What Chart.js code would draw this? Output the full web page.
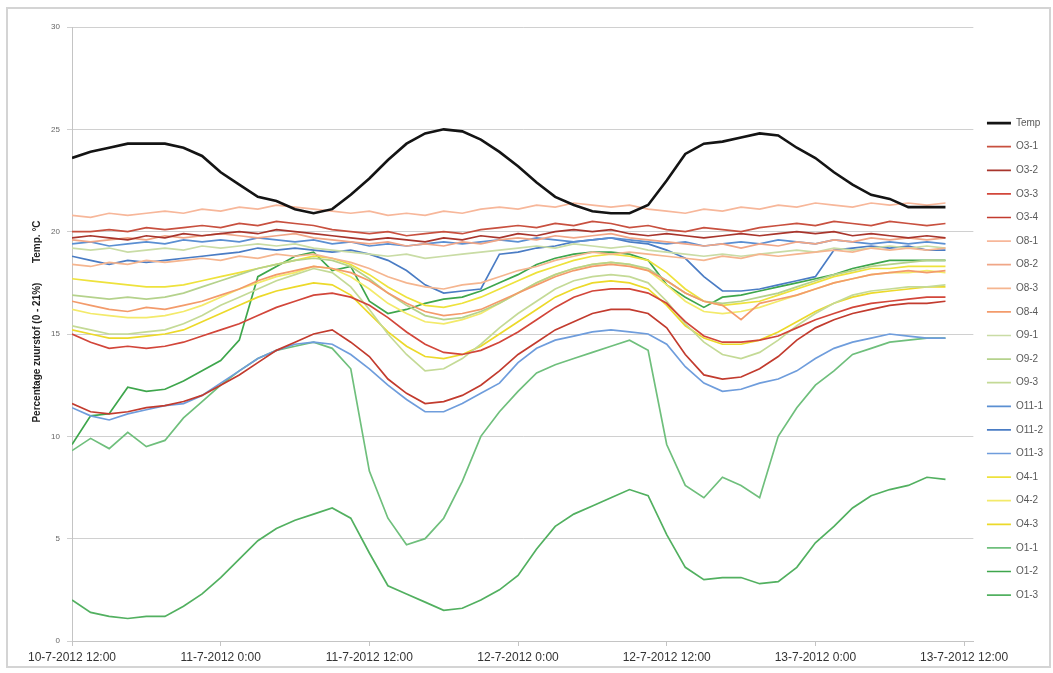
<!doctype html>
<html lang="en">
<head>
<meta charset="utf-8">
<title>Zuurstof en temperatuur</title>
<style>
  * { margin: 0; padding: 0; }
  body { background: #fff; }
  .chartBox { position: relative; width: 1053px; height: 673px; }
  .frame {
    position: absolute; left: 6px; top: 7px; width: 1045px; height: 661px;
    border: 2px solid #d4d4d4; box-sizing: border-box; pointer-events: none;
  }
</style>
</head>
<body>
<div class="chartBox">
  <canvas id="myChart"></canvas>
  <div class="frame"></div>
</div>
<script src="https://cdn.jsdelivr.net/npm/chart.js/dist/chart.umd.min.js"></script>
<script>
// hours since 10-7-2012 12:00
const hours = [0,1.5,3,4.5,6,7.5,9,10.5,12,13.5,15,16.5,18,19.5,21,22.5,24,25.5,27,28.5,30,31.5,33,34.5,36,37.5,39,40.5,42,43.5,45,46.5,48,49.5,51,52.5,54,55.5,57,58.5,60,61.5,63,64.5,66,67.5,69,70.5];
const tickLabels = ['10-7-2012 12:00', '11-7-2012 0:00', '11-7-2012 12:00', '12-7-2012 0:00', '12-7-2012 12:00', '13-7-2012 0:00', '13-7-2012 12:00'];

const temp  = [23.6,23.9,24.1,24.3,24.3,24.3,24.1,23.7,22.9,22.3, 21.7,21.5,21.1,20.9,21.1,21.8,22.6,23.5,24.3,24.8, 25.0,24.9,24.5,23.9,23.2,22.4,21.7,21.3,21.0,20.9, 20.9,21.3,22.5,23.8,24.3,24.4,24.6,24.8,24.7,24.1, 23.6,22.9,22.3,21.8,21.6,21.2,21.2,21.2];
const o3_1  = [20.0,20.0,20.1,20.0,20.2,20.1,20.2,20.3,20.2,20.4, 20.3,20.5,20.4,20.3,20.1,20.0,19.9,20.0,19.8,19.9, 20.0,19.9,20.1,20.2,20.3,20.2,20.4,20.3,20.5,20.4, 20.2,20.3,20.1,20.0,20.2,20.1,20.0,20.2,20.3,20.4, 20.3,20.5,20.4,20.3,20.5,20.4,20.3,20.4];
const o3_2  = [19.7,19.8,19.7,19.6,19.8,19.7,19.9,19.8,19.9,20.0, 19.9,20.1,20.0,19.9,19.8,19.7,19.6,19.7,19.6,19.5, 19.7,19.6,19.8,19.7,19.9,19.8,20.0,20.1,20.0,20.1, 19.9,19.8,19.9,19.8,19.7,19.8,19.9,19.8,19.9,20.0, 19.9,20.0,19.8,19.9,19.8,19.7,19.8,19.7];
const o3_3  = [15.0,14.6,14.3,14.4,14.3,14.4,14.6,14.9,15.2,15.5, 15.9,16.3,16.6,16.9,17.0,16.8,16.4,15.8,15.1,14.5, 14.1,14.0,14.2,14.6,15.1,15.7,16.3,16.8,17.1,17.2, 17.2,17.0,16.5,15.6,14.9,14.6,14.6,14.7,14.9,15.3, 15.7,16.0,16.3,16.5,16.6,16.7,16.8,16.8];
const o3_4  = [11.6,11.2,11.1,11.2,11.4,11.5,11.7,12.0,12.5,13.0, 13.6,14.2,14.6,15.0,15.2,14.6,13.9,12.8,12.1,11.6, 11.7,12.0,12.5,13.2,14.0,14.6,15.2,15.6,16.0,16.2, 16.2,16.0,15.3,14.0,13.0,12.8,12.9,13.3,13.9,14.7, 15.3,15.7,16.0,16.2,16.4,16.5,16.5,16.6];
const o8_1  = [20.8,20.7,20.9,20.8,20.9,21.0,20.9,21.1,21.0,21.2, 21.1,21.3,21.2,21.1,21.0,20.9,21.0,20.8,20.9,20.8, 21.0,20.9,21.1,21.2,21.1,21.3,21.2,21.4,21.3,21.2, 21.3,21.1,21.0,20.9,21.1,21.0,21.2,21.1,21.3,21.2, 21.4,21.3,21.2,21.4,21.3,21.4,21.3,21.4];
const o8_2  = [19.6,19.5,19.6,19.7,19.6,19.8,19.7,19.8,19.9,19.8, 19.7,19.8,19.9,19.7,19.6,19.5,19.4,19.5,19.3,19.4, 19.3,19.5,19.4,19.6,19.7,19.6,19.8,19.7,19.8,19.9, 19.7,19.6,19.5,19.4,19.3,19.4,19.2,19.4,19.3,19.5, 19.4,19.6,19.5,19.7,19.6,19.7,19.6,19.7];
const o8_3  = [18.4,18.3,18.5,18.4,18.6,18.5,18.6,18.7,18.6,18.8, 18.7,18.9,18.8,18.9,18.7,18.5,18.2,17.8,17.5,17.3, 17.2,17.4,17.5,17.8,18.1,18.3,18.6,18.8,19.0,18.9, 19.0,18.9,18.8,18.7,18.6,18.8,18.7,18.9,18.8,18.9, 19.0,19.1,19.0,19.2,19.1,19.2,19.1,19.2];
const o8_4  = [16.6,16.4,16.2,16.1,16.3,16.2,16.4,16.6,16.9,17.2, 17.6,17.9,18.1,18.3,18.2,18.0,17.6,17.0,16.5,16.1, 15.9,16.0,16.2,16.6,17.0,17.4,17.8,18.1,18.3,18.4, 18.3,18.1,17.6,17.0,16.6,16.4,15.7,16.5,16.7,16.9, 17.2,17.5,17.7,17.9,18.0,18.1,18.0,18.1];
const o9_1  = [19.2,19.1,19.2,19.0,19.1,19.2,19.1,19.3,19.2,19.3, 19.4,19.3,19.4,19.2,19.1,19.0,18.9,18.8,18.9,18.7, 18.8,18.9,19.0,19.1,19.2,19.3,19.2,19.4,19.3,19.2, 19.3,19.1,19.0,18.9,18.8,18.9,18.8,18.9,19.0,19.1, 19.0,19.2,19.1,19.2,19.3,19.2,19.3,19.2];
const o9_2  = [16.9,16.8,16.7,16.8,16.7,16.8,17.0,17.3,17.6,17.9, 18.2,18.4,18.6,18.7,18.6,18.3,17.7,17.0,16.4,15.9, 15.7,15.8,16.1,16.5,17.0,17.5,17.9,18.2,18.4,18.5, 18.4,18.2,17.6,17.0,16.6,16.5,16.6,16.8,17.0,17.3, 17.6,17.9,18.1,18.3,18.4,18.5,18.6,18.6];
const o9_3  = [15.4,15.2,15.0,15.0,15.1,15.2,15.5,15.9,16.4,16.8, 17.2,17.6,17.9,18.2,18.0,17.3,16.2,15.0,14.0,13.2, 13.3,13.8,14.5,15.3,16.0,16.6,17.2,17.6,17.8,17.9, 17.8,17.5,16.6,15.5,14.6,14.0,13.8,14.1,14.7,15.4, 16.0,16.5,16.9,17.1,17.2,17.3,17.3,17.4];
const o11_1 = [19.4,19.5,19.3,19.4,19.5,19.4,19.6,19.5,19.6,19.5, 19.7,19.6,19.5,19.6,19.4,19.5,19.3,19.4,19.3,19.4, 19.5,19.4,19.5,19.6,19.5,19.7,19.6,19.5,19.6,19.7, 19.6,19.5,19.4,19.5,19.3,19.4,19.5,19.4,19.6,19.5, 19.4,19.6,19.5,19.4,19.5,19.4,19.5,19.4];
const o11_2 = [18.8,18.6,18.4,18.6,18.5,18.6,18.7,18.8,18.9,19.0, 19.2,19.1,19.2,19.1,19.0,19.1,18.9,18.6,18.1,17.4, 17.0,17.1,17.2,18.9,19.0,19.2,19.3,19.5,19.6,19.7, 19.5,19.4,19.1,18.7,17.8,17.1,17.1,17.2,17.4,17.6, 17.8,19.1,19.2,19.3,19.2,19.3,19.1,19.1];
const o11_3 = [11.4,11.0,10.8,11.1,11.3,11.5,11.6,12.0,12.6,13.2, 13.8,14.2,14.5,14.6,14.5,14.0,13.3,12.5,11.8,11.2, 11.2,11.6,12.1,12.6,13.6,14.3,14.7,14.9,15.1,15.2, 15.1,15.0,14.5,13.4,12.6,12.2,12.3,12.6,12.8,13.2, 13.8,14.3,14.6,14.8,15.0,14.9,14.8,14.8];
const o4_1  = [17.7,17.6,17.5,17.4,17.3,17.3,17.4,17.6,17.8,18.0, 18.2,18.4,18.6,18.8,18.7,18.4,17.9,17.3,16.8,16.4, 16.3,16.5,16.8,17.2,17.6,18.0,18.3,18.6,18.8,18.9, 18.8,18.6,18.0,17.2,16.6,16.4,16.5,16.6,16.9,17.2, 17.5,17.8,18.0,18.2,18.2,18.3,18.3,18.3];
const o4_2  = [16.2,16.0,15.9,15.8,15.8,15.9,16.1,16.4,16.8,17.2, 17.5,17.8,18.0,18.3,18.2,17.8,17.2,16.5,16.0,15.6, 15.5,15.7,16.0,16.5,17.0,17.5,17.9,18.2,18.4,18.5, 18.4,18.1,17.4,16.6,16.1,16.0,16.1,16.3,16.6,16.9, 17.2,17.5,17.7,17.9,18.0,18.0,18.1,18.0];
const o4_3  = [15.2,15.0,14.8,14.8,14.9,15.0,15.2,15.6,16.0,16.4, 16.8,17.1,17.3,17.5,17.4,16.9,16.0,15.1,14.4,13.9, 13.8,14.0,14.4,15.0,15.6,16.2,16.8,17.2,17.5,17.6, 17.5,17.2,16.4,15.4,14.8,14.5,14.5,14.7,15.1,15.6, 16.1,16.5,16.8,17.0,17.1,17.2,17.3,17.3];
const o1_1  = [9.3,9.9,9.4,10.2,9.5,9.8,10.9,11.7,12.5,13.2, 13.8,14.2,14.4,14.6,14.3,13.3,8.3,6.0,4.7,5.0, 6.0,7.8,10.0,11.2,12.2,13.1,13.5,13.8,14.1,14.4, 14.7,14.2,9.6,7.6,7.0,8.0,7.6,7.0,10.0,11.4, 12.5,13.2,14.0,14.3,14.6,14.7,14.8,14.8];
const o1_2  = [9.6,11.0,11.1,12.4,12.2,12.3,12.7,13.2,13.7,14.7, 17.8,18.3,18.8,19.0,18.1,18.3,16.6,16.0,16.2,16.5, 16.7,16.8,17.1,17.5,17.9,18.4,18.7,18.9,19.0,19.0, 18.9,18.6,17.4,16.8,16.3,16.8,16.9,17.1,17.3,17.5, 17.7,17.9,18.2,18.4,18.6,18.6,18.6,18.6];
const o1_3  = [2.0,1.4,1.2,1.1,1.2,1.2,1.7,2.3,3.1,4.0, 4.9,5.5,5.9,6.2,6.5,6.0,4.3,2.7,2.3,1.9, 1.5,1.6,2.0,2.5,3.2,4.5,5.6,6.2,6.6,7.0, 7.4,7.1,5.2,3.6,3.0,3.1,3.1,2.8,2.9,3.6, 4.8,5.6,6.5,7.1,7.4,7.6,8.0,7.9];

// legend order
const names = ['Temp', 'O3-1', 'O3-2', 'O3-3', 'O3-4', 'O8-1', 'O8-2', 'O8-3', 'O8-4',
  'O9-1', 'O9-2', 'O9-3', 'O11-1', 'O11-2', 'O11-3', 'O4-1', 'O4-2', 'O4-3', 'O1-1', 'O1-2', 'O1-3'];
const values = [temp, o3_1, o3_2, o3_3, o3_4, o8_1, o8_2, o8_3, o8_4,
  o9_1, o9_2, o9_3, o11_1, o11_2, o11_3, o4_1, o4_2, o4_3, o1_1, o1_2, o1_3];
const colors = ['#141414', '#c8503f', '#a8352c', '#d2463a', '#c23b2e', '#f7b79a', '#f0a687', '#f5b58f', '#f39b6b',
  '#c9dca5', '#b5d28c', '#c4da96', '#5b8fd2', '#4a7cc4', '#6f9ddc', '#eee23c', '#f3ea6a', '#ecd92a',
  '#6fbf7c', '#3ea64c', '#52b060'];

const fontFamily = "'Liberation Sans', Arial, sans-serif";
Chart.defaults.font.family = fontFamily;

const datasets = names.map((name, i) => ({
  label: name,
  data: hours.map((h, j) => ({ x: h, y: values[i][j] })),
  borderColor: colors[i],
  backgroundColor: colors[i],
  borderWidth: i === 0 ? 2.6 : 1.7,
  pointRadius: 0,
  tension: 0
}));

const config = {
  type: 'line',
  data: { datasets },
  options: {
    responsive: true,
    maintainAspectRatio: false,
    animation: false,
    layout: { padding: { left: 28, top: 27, right: 0, bottom: 7 } },
    scales: {
      x: {
        type: 'linear',
        min: 0,
        max: 72.75,
        ticks: {
          stepSize: 12,
          includeBounds: false,
          autoSkip: false,
          maxRotation: 0,
          padding: 4,
          color: '#333',
          font: { size: 12 },
          callback: v => tickLabels[v / 12]
        },
        grid: { drawOnChartArea: false, drawTicks: true, tickLength: 5, color: '#c4c4c4' },
        border: { color: '#c4c4c4' },
        afterFit: s => { s.height = 25; }
      },
      y: {
        min: 0,
        max: 30,
        ticks: { stepSize: 5, padding: 7, color: '#666', font: { size: 8 } },
        grid: { color: '#d0d0d0', tickLength: 5 },
        border: { color: '#c4c4c4' },
        title: {
          display: true,
          text: '         Percentage zuurstof (0 - 21%)       Temp. °C',
          color: '#222',
          font: { size: 10, weight: 'bold' },
          padding: { top: 3, bottom: 0 }
        },
        afterFit: s => { s.width = 44; }
      }
    },
    plugins: {
      legend: {
        position: 'right',
        title: { display: true, text: ' ', padding: 6, font: { size: 11 } },
        labels: {
          usePointStyle: true,
          pointStyle: 'line',
          pointStyleWidth: 24,
          padding: 13.6,
          color: '#595959',
          font: { size: 10 }
        }
      },
      tooltip: { enabled: false }
    }
  }
};

const myChart = new Chart(document.getElementById('myChart'), config);
</script>
</body>
</html>
